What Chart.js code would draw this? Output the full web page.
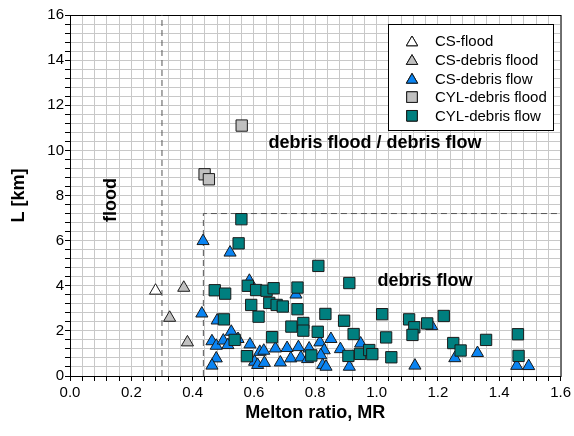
<!DOCTYPE html>
<html>
<head>
<meta charset="utf-8">
<script src="https://cdn.jsdelivr.net/npm/chart.js@4/dist/chart.umd.min.js"></script>
<style>
  html, body { margin: 0; padding: 0; background: #fff; }
  #wrap { width: 574px; height: 436px; }
</style>
</head>
<body>
<div id="wrap"><canvas id="chart" width="574" height="436"></canvas></div>
<script>
// Datos (MR, L km)
const csFloodX = [0.279]
const csFloodY = [3.78]

const csDebrisFloodX = [0.325, 0.371, 0.383]
const csDebrisFloodY = [2.58, 3.91, 1.49]

const csDebrisFlowX = [0.434, 0.522, 0.585, 0.430, 0.480, 0.463, 0.477, 0.500, 0.515, 0.526,
  0.548, 0.587, 0.477, 0.463, 0.619, 0.632, 0.602, 0.612, 0.634, 0.670,
  0.686, 0.708, 0.720, 0.745, 0.737, 0.753, 0.780, 0.775, 0.815, 0.851,
  0.829, 0.818, 0.824, 0.835, 0.882, 0.948, 0.911, 1.125, 1.180, 1.255,
  1.329, 1.457, 1.496]
const csDebrisFlowY = [5.98, 5.47, 4.22, 2.77, 2.46, 1.54, 1.34, 1.57, 1.37, 1.96,
  1.64, 1.40, 0.78, 0.46, 1.07, 1.12, 0.63, 0.49, 0.58, 1.22,
  0.60, 1.24, 0.78, 1.28, 3.61, 0.82, 1.22, 0.75, 1.49, 1.64,
  1.14, 0.92, 0.48, 0.41, 1.19, 1.44, 0.41, 0.46, 2.21, 0.79,
  1.02, 0.45, 0.44]

const cylDebrisFloodX = [0.439, 0.453, 0.560]
const cylDebrisFloodY = [8.94, 8.72, 11.10]

const cylDebrisFlowX = [0.559, 0.550, 0.472, 0.506, 0.580, 0.607, 0.641, 0.664, 0.591, 0.650,
  0.674, 0.694, 0.615, 0.502, 0.722, 0.537, 0.659, 0.577, 0.810, 0.911,
  0.742, 0.742, 0.833, 0.894, 0.761, 0.761, 0.808, 0.925, 0.787, 0.908,
  0.946, 0.976, 0.986, 1.018, 1.031, 1.106, 1.123, 1.117, 1.165, 1.219,
  1.048, 1.250, 1.274, 1.357, 1.461, 1.463]
const cylDebrisFlowY = [6.95, 5.88, 3.80, 3.65, 4.00, 3.81, 3.78, 3.89, 3.15, 3.24,
  3.15, 3.08, 2.63, 2.51, 2.19, 1.60, 1.72, 0.88, 4.88, 4.12,
  3.92, 2.96, 2.75, 2.45, 2.35, 2.01, 1.96, 1.86, 0.91, 0.89,
  0.98, 1.15, 0.97, 2.74, 1.71, 2.51, 2.16, 1.82, 2.33, 2.66,
  0.83, 1.46, 1.13, 1.60, 1.85, 0.89]

// Límites de las zonas
const floodLimitMR = 0.30
const flowLimitMR = 0.435
const flowLimitL = 7.2

const xMin = 0, xMax = 1.6, xStep = 0.04, xMajor = 0.2
const yMin = 0, yMax = 16, yStep = 0.4, yMajor = 2

const zoneLabels = [
  { text: "flood", x: 0.133, y: 7.8, rotate: true },
  { text: "debris flood / debris flow", x: 0.995, y: 10.33, rotate: false },
  { text: "debris flow", x: 1.158, y: 4.21, rotate: false },
]

function toPoints(xs, ys) {
  return xs.map((x, i) => ({ x: x, y: ys[i] }))
}

const FONT = "'Liberation Sans', Arial, sans-serif"

const series = [
  { label: "CS-flood", xs: csFloodX, ys: csFloodY, style: "triangle", color: "#ffffff", radius: 7, order: 4 },
  { label: "CS-debris flood", xs: csDebrisFloodX, ys: csDebrisFloodY, style: "triangle", color: "#c0c0c0", radius: 7, order: 3 },
  { label: "CS-debris flow", xs: csDebrisFlowX, ys: csDebrisFlowY, style: "triangle", color: "#0a84f2", radius: 7, order: 2 },
  { label: "CYL-debris flood", xs: cylDebrisFloodX, ys: cylDebrisFloodY, style: "rect", color: "#c0c0c0", radius: 8, order: 1 },
  { label: "CYL-debris flow", xs: cylDebrisFlowX, ys: cylDebrisFlowY, style: "rect", color: "#007f7f", radius: 8, order: 0 },
]

const datasets = series.map((s) => ({
  label: s.label,
  data: toPoints(s.xs, s.ys),
  pointStyle: s.style,
  pointRadius: s.radius,
  pointHoverRadius: s.radius,
  backgroundColor: s.color,
  borderColor: "#1a1a1a",
  borderWidth: 1,
  showLine: false,
  order: s.order,
}))

// Líneas de límite (discontinuas)
const boundaries = [
  [{ x: floodLimitMR, y: yMin }, { x: floodLimitMR, y: yMax }],
  [{ x: flowLimitMR, y: yMin }, { x: flowLimitMR, y: flowLimitL }, { x: xMax, y: flowLimitL }],
]
boundaries.forEach((pts) => {
  datasets.push({
    label: "",
    data: pts,
    showLine: true,
    borderColor: "#555555",
    borderWidth: 1,
    borderDash: [6, 4],
    pointRadius: 0,
    fill: false,
    order: 10,
  })
})

function isMajor(v, step) {
  return Math.abs(v / step - Math.round(v / step)) < 1e-6
}

const frameAndText = {
  id: "frameAndText",
  beforeDatasetsDraw(chart) {
    const { ctx, chartArea: a } = chart
    ctx.save()
    ctx.strokeStyle = "#000"
    ctx.lineWidth = 1
    ctx.strokeRect(a.left + 0.5, a.top + 0.5, a.right - a.left, a.bottom - a.top)
    ctx.restore()
  },
  afterDatasetsDraw(chart) {
    const { ctx, scales } = chart
    ctx.save()
    ctx.fillStyle = "#000"
    ctx.font = "bold 18px " + FONT
    ctx.textAlign = "center"
    ctx.textBaseline = "middle"
    zoneLabels.forEach((z) => {
      const px = scales.x.getPixelForValue(z.x)
      const py = scales.y.getPixelForValue(z.y)
      if (z.rotate) {
        ctx.save()
        ctx.translate(px, py)
        ctx.rotate(-Math.PI / 2)
        ctx.fillText(z.text, 0, 0)
        ctx.restore()
      } else {
        ctx.fillText(z.text, px, py)
      }
    })

    // Leyenda dentro del área del gráfico
    const box = { left: 388, top: 24, width: 165, height: 106 }
    ctx.fillStyle = "#fff"
    ctx.fillRect(box.left, box.top, box.width, box.height)
    ctx.strokeStyle = "#000"
    ctx.lineWidth = 1
    ctx.strokeRect(box.left + 0.5, box.top + 0.5, box.width, box.height)
    ctx.font = "15px " + FONT
    ctx.textAlign = "left"
    series.forEach((s, i) => {
      const y = 41 + i * 18.7
      Chart.helpers.drawPoint(ctx, {
        pointStyle: s.style,
        radius: s.style === "rect" ? 7.5 : 6.5,
        rotation: 0,
        borderWidth: 1,
      }, 412, s.style === "triangle" ? y + 1.5 : y)
      ctx.fillStyle = s.color
      ctx.strokeStyle = "#1a1a1a"
      ctx.beginPath()
      if (s.style === "rect") {
        const h = 7.5 * Math.SQRT1_2
        ctx.rect(412 - h, y - h, 2 * h, 2 * h)
      } else {
        const r = 6.5, cy = y + 1.5
        ctx.moveTo(412, cy - r)
        ctx.lineTo(412 + r * Math.sin(2 * Math.PI / 3), cy + r / 2)
        ctx.lineTo(412 - r * Math.sin(2 * Math.PI / 3), cy + r / 2)
        ctx.closePath()
      }
      ctx.fill()
      ctx.stroke()
      ctx.fillStyle = "#000"
      ctx.fillText(s.label, 435, y + 1)
    })
    ctx.restore()
  },
}

const ctx = document.getElementById("chart").getContext("2d")
new Chart(ctx, {
  type: "scatter",
  data: { datasets: datasets },
  options: {
    responsive: false,
    animation: false,
    events: [],
    layout: { padding: { left: 0, right: 12, top: 15, bottom: 0 } },
    plugins: {
      legend: { display: false },
      tooltip: { enabled: false },
    },
    scales: {
      x: {
        type: "linear",
        min: xMin,
        max: xMax,
        afterFit: (scale) => { scale.height = 60 },
        ticks: {
          stepSize: xStep,
          autoSkip: false,
          maxRotation: 0,
          padding: 3,
          color: "#000",
          font: { family: FONT, size: 15 },
          callback: (v) => (isMajor(v, xMajor) ? v.toFixed(1) : ""),
        },
        grid: {
          color: "#c8c8c8",
          tickColor: "#000",
          tickLength: 5,
        },
        border: { color: "#000", width: 1 },
        title: {
          display: true,
          text: "Melton ratio, MR",
          color: "#000",
          font: { family: FONT, size: 18, weight: "bold" },
          padding: { top: 0, bottom: 12 },
        },
      },
      y: {
        type: "linear",
        min: yMin,
        max: yMax,
        afterFit: (scale) => { scale.width = 70 },
        ticks: {
          stepSize: yStep,
          autoSkip: false,
          padding: 1,
          color: "#000",
          font: { family: FONT, size: 15 },
          callback: (v) => (isMajor(v, yMajor) ? String(Math.round(v)) : ""),
        },
        grid: {
          color: "#c8c8c8",
          tickColor: "#000",
          tickLength: 5,
        },
        border: { color: "#000", width: 1 },
        title: {
          display: true,
          text: "L [km]",
          color: "#000",
          font: { family: FONT, size: 18, weight: "bold" },
          padding: { top: 8, bottom: 0 },
        },
      },
    },
  },
  plugins: [frameAndText],
})
</script>
</body>
</html>
